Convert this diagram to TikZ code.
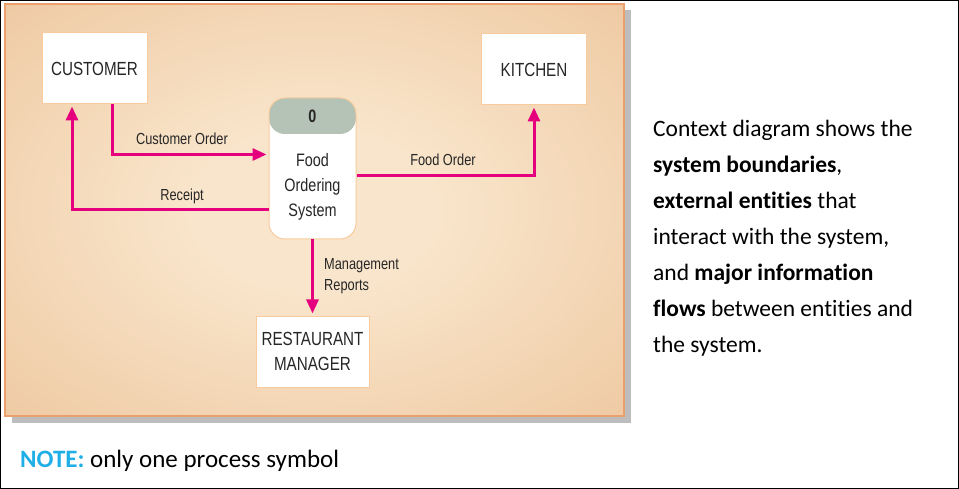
\documentclass[tikz,border=0pt]{standalone}
\usepackage{fontspec}
\setmainfont{Carlito}[Ligatures={NoCommon}]
\newfontfamily\dfdfont[FakeStretch=0.8]{Liberation Sans}
\usetikzlibrary{arrows.meta}
\definecolor{flowpink}{HTML}{E5007D}
\definecolor{panelin}{HTML}{F9E5CB}
\definecolor{panelout}{HTML}{E8B98A}
\definecolor{panelrim}{HTML}{EB9F6C}
\definecolor{boxrim}{HTML}{F7CB9E}
\definecolor{headgray}{HTML}{B4C3B6}
\definecolor{noteblue}{HTML}{1FAEE6}
\definecolor{inkgray}{HTML}{262626}
\definecolor{shadowgray}{HTML}{BDBDBD}
\pgfdeclareradialshading{panelglow}{\pgfpoint{0bp}{0bp}}{color(0bp)=(panelin); color(10bp)=(panelin); color(52bp)=(panelout); color(72bp)=(panelout)}
\tikzset{
  entity/.style={draw=boxrim, line width=1pt, fill=white, minimum width=105pt, minimum height=71pt,
    inner sep=0pt, align=center, text=inkgray, font=\dfdfont\fontsize{19}{25}\selectfont},
  flow/.style={draw=flowpink, line width=3pt, -{Triangle[length=14pt,width=12pt]}, shorten >=2pt},
  flowlabel/.style={text=inkgray, font=\dfdfont\fontsize{16}{21}\selectfont, inner sep=0pt},
}
\begin{document}
\begin{tikzpicture}[x=1pt,y=-1pt]
  \useasboundingbox (0,0) rectangle (959,489);
  \draw[black, line width=1pt] (0.5,0.5) rectangle (958.5,488.5);
  % panel with shadow
  \fill[shadowgray] (12,10) rectangle (631,423);
  \shade[shading=panelglow] (5,4) rectangle (624,416);
  \draw[panelrim, line width=1.2pt] (5,4) rectangle (624,416);
  % external entities
  \node[entity] (cust) at (94.5,68.5) {CUSTOMER};
  \node[entity] (kit) at (534,69.5) {KITCHEN};
  \node[entity, minimum width=113pt] (mgr) at (312.5,351.5) {RESTAURANT\\MANAGER};
  % process
  \node[draw=boxrim, line width=1pt, fill=white, rounded corners=16pt, minimum width=87pt, minimum height=141pt,
    path picture={\fill[headgray] (path picture bounding box.north west) rectangle ([yshift=-36pt]path picture bounding box.north east);}]
    (proc) at (312.5,168.5) {};
  \node[text=inkgray, font=\dfdfont\bfseries\fontsize{18}{22}\selectfont] (procid) at (312.5,116) {0};
  \node[text=inkgray, align=center, font=\dfdfont\fontsize{18}{25}\selectfont] (proctext) at (312.5,186.5) {Food\\Ordering\\System};
  % flows
  \draw[flow] ([xshift=17.5pt]cust.south) |- ([yshift=14pt]proc.west);
  \draw[flow] ([yshift=-41.5pt]proc.west) -| ([xshift=-22.5pt]cust.south);
  \draw[flow] ([yshift=-7.5pt]proc.east) -| (kit.south);
  \draw[flow] (proc.south) -- (mgr.north);
  \node[flowlabel] (lblorder) at (182,139) {Customer Order};
  \node[flowlabel] (lblreceipt) at (182,196) {Receipt};
  \node[flowlabel] (lblfood) at (443,160) {Food Order};
  \node[flowlabel, anchor=west, align=left] (lblreports) at (324,276.5) {Management\\Reports};
  % side notes
  \node[anchor=north west, inner sep=0pt, align=left, font=\fontsize{23.5}{36}\selectfont] (summary) at (653,119.5)
    {Context diagram shows the\\
     \textbf{system boundaries},\\
     \textbf{external entities} that\\
     interact with the system,\\
     and \textbf{major information}\\
     \textbf{flows} between entities and\\
     the system.};
  \node[anchor=base west, inner sep=0pt, font=\fontsize{25}{30}\selectfont] (note) at (20,467)
    {\textcolor{noteblue}{\textbf{NOTE:}} only one process symbol};
\end{tikzpicture}
\end{document}
